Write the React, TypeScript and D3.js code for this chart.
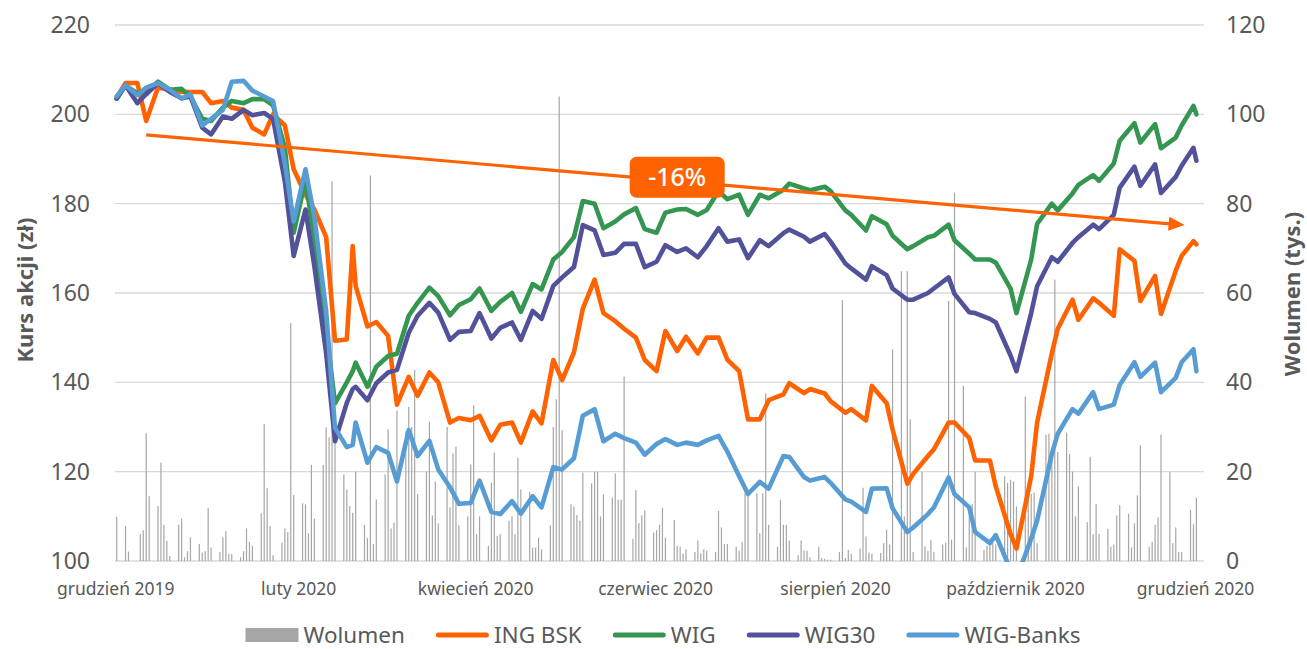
import { useEffect, useRef } from 'react';
import * as d3 from 'd3';

// Price series (left axis, zł / rebased index)
const dates = [
  '2019-12-02', '2019-12-05', '2019-12-09', '2019-12-12', '2019-12-16', '2019-12-20', '2019-12-24', '2019-12-27',
  '2019-12-31', '2020-01-03', '2020-01-07', '2020-01-10', '2020-01-14', '2020-01-17', '2020-01-21', '2020-01-24',
  '2020-01-28', '2020-01-31', '2020-02-04', '2020-02-07', '2020-02-11', '2020-02-14', '2020-02-18', '2020-02-20',
  '2020-02-21', '2020-02-25', '2020-02-28', '2020-03-03', '2020-03-06', '2020-03-10', '2020-03-13', '2020-03-17',
  '2020-03-20', '2020-03-24', '2020-03-27', '2020-03-31', '2020-04-03', '2020-04-07', '2020-04-10', '2020-04-14',
  '2020-04-17', '2020-04-21', '2020-04-24', '2020-04-28', '2020-05-01', '2020-05-05', '2020-05-08', '2020-05-12',
  '2020-05-15', '2020-05-19', '2020-05-22', '2020-05-26', '2020-05-29', '2020-06-02', '2020-06-05', '2020-06-09',
  '2020-06-12', '2020-06-16', '2020-06-19', '2020-06-23', '2020-06-26', '2020-06-30', '2020-07-03', '2020-07-07',
  '2020-07-10', '2020-07-15', '2020-07-17', '2020-07-22', '2020-07-24', '2020-07-29', '2020-07-31', '2020-08-05',
  '2020-08-07', '2020-08-12', '2020-08-14', '2020-08-19', '2020-08-21', '2020-08-26', '2020-08-28', '2020-09-02',
  '2020-09-04', '2020-09-09', '2020-09-11', '2020-09-16', '2020-09-18', '2020-09-23', '2020-09-25', '2020-09-30',
  '2020-10-02', '2020-10-07', '2020-10-09', '2020-10-14', '2020-10-16', '2020-10-21', '2020-10-23', '2020-10-28',
  '2020-10-30', '2020-11-04', '2020-11-06', '2020-11-11', '2020-11-13', '2020-11-18', '2020-11-20', '2020-11-25',
  '2020-11-27', '2020-12-01', '2020-12-02',
];

const ingBsk = [
  203.8, 207, 207, 198.5, 206, 205.5, 205, 205, 205, 202.5, 203, 201.5, 201, 197, 195.5, 200,
  197.5, 187.7, 182, 178.7, 172.5, 149.3, 149.6, 170.5, 161.6, 152.5, 153.5, 150.4, 135, 141.2, 137, 142.2,
  140, 131, 132, 131.5, 132.5, 127, 130.5, 131, 126.5, 133.5, 130.8, 145, 140.5, 146.7, 156.5, 163,
  155.5, 153.7, 152, 150, 145, 142.5, 151.5, 147, 150.2, 146.5, 150, 150, 145.1, 142.5, 131.7, 131.7,
  136, 137.3, 139.8, 137.6, 138.5, 137.5, 135.8, 133.2, 134, 131.5, 139.2, 135.3, 129.5, 117.3, 119.5, 123.5,
  125, 131, 131, 127.5, 122.5, 122.5, 116.7, 106, 102.8, 119, 131, 146.5, 152, 158.5, 154, 158.8,
  157.8, 154.9, 169.8, 167.2, 158.2, 163.8, 155.3, 165, 168.3, 171.6, 170.9,
];

const wig = [
  203.5, 206.5, 204.7, 205, 207.3, 205.5, 205.7, 204, 199, 198.5, 201.5, 203, 202.5, 203.4, 203.4, 202,
  192.5, 173.5, 185.4, 172, 152, 135.3, 140, 142.5, 144.4, 139, 143.5, 145.9, 146.4, 154.9, 157.8, 161.2,
  159.3, 155, 157.3, 158.6, 161, 156, 158, 160, 155.8, 162, 160.8, 167.5, 169.2, 172.5, 180.6, 180,
  174.5, 176, 177.6, 179, 174.3, 173.5, 178, 178.7, 178.8, 177.5, 178.6, 182.8, 181, 182, 177.5, 182,
  181.2, 183.1, 184.5, 183.4, 183, 183.8, 182.8, 178.5, 177.5, 174, 177.2, 175.4, 172.8, 169.8, 170.5, 172.5,
  172.8, 175.3, 171.8, 168.8, 167.5, 167.5, 166.8, 161, 155.5, 167.5, 175.5, 180, 178.5, 182.3, 184.2, 186.4,
  185.1, 189, 194.1, 198, 193.7, 197.8, 192.4, 194.8, 197.5, 201.9, 200,
];

const wig30 = [
  203.5, 206.5, 202.5, 204.5, 207, 205, 203.6, 204, 197, 195.5, 199.5, 199, 201, 199.8, 200.3, 199,
  185, 168.3, 178.7, 166, 146.5, 126.8, 135.4, 138.5, 139, 136, 139.8, 142.2, 142.8, 151.1, 154.9, 157.8,
  155.6, 149.5, 151.3, 151.5, 155.5, 149.8, 152.2, 153.4, 149.5, 156, 154.2, 161.6, 163.5, 165.8, 175.2, 174,
  168.5, 169, 171, 171, 165.8, 167, 170.7, 169.2, 170, 168, 170.5, 174.5, 171.5, 172, 167.8, 171.8,
  170.5, 173.4, 174.2, 172.6, 171.5, 173.2, 171.5, 166.6, 165.5, 163, 166, 164, 161, 158.5, 158.5, 160,
  161, 163.5, 159.8, 155.7, 155.5, 154.2, 153.4, 146, 142.5, 155.5, 161.5, 168, 167, 171.2, 172.5, 175.3,
  174.3, 177.5, 183.6, 188.3, 184, 188.8, 182.4, 186, 188.5, 192.5, 189.6,
];

const wigBanks = [
  204, 206.5, 204.3, 206, 207, 205.5, 203.5, 204.5, 197.5, 199, 201, 207.3, 207.5, 205.3, 204, 203,
  189, 176, 187.7, 177, 156, 129.8, 125.5, 126, 131, 122, 125.5, 124.2, 117.8, 129.3, 123.5, 126.9,
  120.5, 116.5, 112.8, 113, 118, 111, 110.5, 113.4, 110.6, 114.5, 112, 121, 120.5, 123, 132.5, 134,
  126.8, 128.5, 127.5, 126.5, 123.8, 126.2, 127.3, 126, 126.5, 126, 127, 128, 124.5, 119, 115, 117.7,
  116.2, 123.5, 123.3, 118.8, 118, 118.8, 117.5, 113.8, 113.3, 111, 116.2, 116.3, 111.8, 106.5, 107.5, 110.5,
  112, 118.7, 115, 112, 106.5, 104, 105.8, 98, 96, 105, 109, 124, 128.5, 134, 133, 137.8,
  134, 135, 139.4, 144.5, 141.2, 144.4, 137.8, 141, 144.5, 147.4, 142.5,
];

// Daily volume (thousand shares, right axis), one row per week Mon..Fri
const volumeFirstMonday = '2019-12-02';
const volume = [
  [9.9, 0, 0, 7.8, 2.1], [0, 6, 6.9, 28.6, 14.5], [12.3, 22, 8.1, 4.5, 1.1], [8.1, 9.5, 0.8, 2.2, 5.3],
  [3.8, 1.9, 2.2, 11.9, 3], [2, 5.3, 6.7, 1.6, 1.6], [0.8, 2.2, 7.3, 4.3, 3.4], [10.7, 30.7, 16.3, 7.8, 1.3],
  [4.1, 7.3, 6.5, 53.3, 14.8], [12.9, 12.7, 6.2, 21.5, 9.5], [21.5, 29.9, 27.7, 85, 27], [19.4, 16, 12.3, 10.8, 20],
  [8.1, 5.1, 86.3, 3.8, 13.8], [19.4, 29.5, 7.3, 8.6, 33.7], [29, 34.5, 30, 42.8, 15], [20, 31.2, 10.2, 17.8, 8.4],
  [30, 12, 24.1, 25.6, 8], [10, 21.6, 34.9, 6, 10], [3.4, 17.5, 24.3, 5.6, 6], [9, 10, 6, 23.1, 16],
  [15.5, 3, 3, 5.2, 2.6], [8, 30, 36.2, 104, 29.3], [12.7, 12.2, 10.3, 9, 19.8], [17.4, 20, 20, 10, 14.9],
  [14.2, 19.6, 13.7, 13.7, 41.3], [5, 15.9, 8.5, 10.2, 11.3], [6.4, 6.9, 8.1, 11.9, 5.2], [9.2, 3.4, 3.2, 1.7, 2.6],
  [2, 4.6, 1.7, 2.6, 2.3], [2, 11.2, 7.5, 3.8, 3.8], [3.2, 2.3, 4.2, 15.2, 15.2], [15.2, 6.2, 15.2, 37.5, 8.1],
  [3.2, 13.7, 8.1, 8.1, 4.6], [1.3, 4.6, 2.3, 2.3, 0.8], [3.2, 0.7, 0.5, 0.3, 0.3], [2, 58.4, 0.7, 2.5, 1.6],
  [2.8, 16.4, 5.5, 1.9, 1.6], [1.8, 4, 7, 3.7, 47.4], [64.9, 10, 64.9, 31.7, 2], [20, 3.3, 2.2, 4.7, 2],
  [3.7, 4.1, 58.2, 4.8, 82.5], [39.2, 3, 12.4, 12.8, 20], [2.5, 3.4, 5, 4.1, 3.7], [19, 17.5, 18.2, 17.8, 12.2],
  [36.8, 16, 15, 15.3, 4], [28.3, 28.5, 24.4, 63, 24.4], [28.7, 24, 20, 10, 16.7], [8.7, 23.3, 6, 12.8, 6.1],
  [7.2, 3.2, 3.7, 10.2, 12.5], [10.6, 3, 8.4, 14.7, 25.9], [3.2, 4.3, 8.1, 9.8, 28.3], [19.9, 4, 7.5, 2, 2],
  [11.5, 8.2, 14.2],
];

const priceTicks = [100, 120, 140, 160, 180, 200, 220];
const volumeTicks = [0, 20, 40, 60, 80, 100, 120];
const monthTicks = ['2019-12-01', '2020-02-01', '2020-04-01', '2020-06-01', '2020-08-01', '2020-10-01', '2020-12-01'];
const monthLabels = ['grudzień 2019', 'luty 2020', 'kwiecień 2020', 'czerwiec 2020', 'sierpień 2020', 'październik 2020', 'grudzień 2020'];

// ING BSK trend arrow and its label
const trendStart = { date: '2019-12-12', value: 195.4 };
const trendEnd = { date: '2020-11-28', value: 175.2 };
const trendLabel = { date: '2020-06-09', value: 185.9, text: '-16%' };

const FONT = "'Noto Sans', 'Open Sans', sans-serif";
const TEXT = '#595959';

export default function App() {
  const svgRef = useRef<SVGSVGElement | null>(null);

  useEffect(() => {
    document.body.style.margin = '0';
    const parse = d3.timeParse('%Y-%m-%d');
    const svg = d3.select(svgRef.current);
    svg.selectAll('*').remove();

    // plot area
    const left = 115;
    const right = 1204;
    const top = 25;
    const bottom = 561;

    const x = d3
      .scaleTime()
      .domain([parse('2019-12-01')!, parse('2020-12-04')!])
      .range([113.75, 1202.3]);
    const yPrice = d3.scaleLinear().domain([100, 220]).range([bottom, top]);
    const yVol = d3.scaleLinear().domain([0, 120]).range([bottom, top]);

    // gridlines
    svg
      .append('g')
      .selectAll('line')
      .data(priceTicks)
      .join('line')
      .attr('x1', left)
      .attr('x2', right)
      .attr('y1', (d) => yPrice(d))
      .attr('y2', (d) => yPrice(d))
      .attr('stroke', '#d9d9d9')
      .attr('stroke-width', 1.3);

    // volume bars
    const start = parse(volumeFirstMonday)!;
    const volPoints = volume
      .flatMap((week, w) => week.map((v, i) => ({ date: d3.timeDay.offset(start, w * 7 + i), v })))
      .filter((d) => d.v > 0);

    svg
      .append('g')
      .selectAll('rect')
      .data(volPoints)
      .join('rect')
      .attr('x', (d) => x(d.date) - 0.6)
      .attr('width', 1.2)
      .attr('y', (d) => yVol(d.v))
      .attr('height', (d) => yVol(0) - yVol(d.v))
      .attr('fill', '#a6a6a6');

    // lines, clipped at the bottom axis
    svg
      .append('clipPath')
      .attr('id', 'plot-clip')
      .append('rect')
      .attr('x', 100)
      .attr('y', 0)
      .attr('width', 1120)
      .attr('height', bottom + 1);

    const series = [
      { name: 'ING BSK', values: ingBsk, color: '#FF6200' },
      { name: 'WIG', values: wig, color: '#349650' },
      { name: 'WIG30', values: wig30, color: '#52529B' },
      { name: 'WIG-Banks', values: wigBanks, color: '#579DD4' },
    ];
    const parsedDates = dates.map((d) => parse(d)!);
    const line = d3
      .line<number>()
      .x((_, i) => x(parsedDates[i]))
      .y((v) => yPrice(v));

    const lineG = svg.append('g').attr('clip-path', 'url(#plot-clip)');
    series.forEach((s) => {
      lineG
        .append('path')
        .datum(s.values)
        .attr('fill', 'none')
        .attr('stroke', s.color)
        .attr('stroke-width', 4.6)
        .attr('stroke-linejoin', 'round')
        .attr('stroke-linecap', 'round')
        .attr('d', line);
    });

    // trend arrow
    const x0 = x(parse(trendStart.date)!);
    const y0 = yPrice(trendStart.value);
    const x1 = x(parse(trendEnd.date)!);
    const y1 = yPrice(trendEnd.value);
    const len = Math.hypot(x1 - x0, y1 - y0);
    const ux = (x1 - x0) / len;
    const uy = (y1 - y0) / len;
    const headLen = 16;
    const headHalf = 7;
    const bx = x1 - ux * headLen;
    const by = y1 - uy * headLen;
    svg
      .append('line')
      .attr('x1', x0)
      .attr('y1', y0)
      .attr('x2', bx + ux)
      .attr('y2', by + uy)
      .attr('stroke', '#FF6200')
      .attr('stroke-width', 3.2);
    svg
      .append('polygon')
      .attr(
        'points',
        [
          [x1, y1],
          [bx - uy * headHalf, by + ux * headHalf],
          [bx + uy * headHalf, by - ux * headHalf],
        ]
          .map((p) => p.join(','))
          .join(' ')
      )
      .attr('fill', '#FF6200');

    // label box
    const lx = x(parse(trendLabel.date)!);
    const ly = yPrice(trendLabel.value);
    svg
      .append('rect')
      .attr('x', lx - 47.5)
      .attr('y', ly - 20.5)
      .attr('width', 95)
      .attr('height', 41)
      .attr('rx', 7)
      .attr('fill', '#FF6200');
    svg
      .append('text')
      .attr('x', lx)
      .attr('y', ly + 9)
      .attr('text-anchor', 'middle')
      .attr('font-family', FONT)
      .attr('font-size', 25)
      .attr('font-weight', 500)
      .attr('fill', '#fff')
      .text(trendLabel.text);

    // axis labels
    const labels = svg.append('g').attr('font-family', FONT).attr('fill', TEXT);
    labels
      .selectAll('.ly')
      .data(priceTicks)
      .join('text')
      .attr('class', 'ly')
      .attr('x', 90)
      .attr('y', (d) => yPrice(d) + 8)
      .attr('text-anchor', 'end')
      .attr('font-size', 23)
      .text((d) => d);
    labels
      .selectAll('.ry')
      .data(volumeTicks)
      .join('text')
      .attr('class', 'ry')
      .attr('x', 1226)
      .attr('y', (d) => yVol(d) + 8)
      .attr('font-size', 23)
      .text((d) => d);
    labels
      .selectAll('.xl')
      .data(monthTicks)
      .join('text')
      .attr('class', 'xl')
      .attr('x', (d) => x(parse(d)!) + 2)
      .attr('y', 595)
      .attr('text-anchor', 'middle')
      .attr('font-size', 17.5)
      .text((_, i) => monthLabels[i]);

    labels
      .append('text')
      .attr('transform', 'translate(33,290) rotate(-90)')
      .attr('text-anchor', 'middle')
      .attr('font-size', 22)
      .attr('font-weight', 700)
      .text('Kurs akcji (zł)');
    labels
      .append('text')
      .attr('transform', 'translate(1300,294) rotate(-90)')
      .attr('text-anchor', 'middle')
      .attr('font-size', 22)
      .attr('font-weight', 700)
      .text('Wolumen (tys.)');

    // legend
    const legendItems = [
      { name: 'Wolumen', color: '#a6a6a6', bar: true },
      ...series.map((s) => ({ name: s.name, color: s.color, bar: false })),
    ];
    const legend = svg.append('g').attr('font-family', FONT);
    const symW = 53;
    const gap = 5;
    const itemGap = 31;
    let cursor = 0;
    const groups = legendItems.map((item) => {
      const g = legend.append('g');
      if (item.bar) {
        g.append('rect').attr('x', 0).attr('y', -7).attr('width', symW).attr('height', 14).attr('fill', item.color);
      } else {
        g.append('line')
          .attr('x1', 2.5)
          .attr('x2', symW - 2.5)
          .attr('y1', 0)
          .attr('y2', 0)
          .attr('stroke', item.color)
          .attr('stroke-width', 5)
          .attr('stroke-linecap', 'round');
      }
      const t = g
        .append('text')
        .attr('x', symW + gap)
        .attr('y', 7.5)
        .attr('font-size', 22.5)
        .attr('fill', TEXT)
        .text(item.name);
      const w = symW + gap + (t.node() as SVGTextElement).getComputedTextLength();
      const pos = cursor;
      cursor += w + itemGap;
      return { g, pos };
    });
    const total = cursor - itemGap;
    const legendLeft = 663 - total / 2;
    groups.forEach(({ g, pos }) => g.attr('transform', `translate(${legendLeft + pos},635)`));
  }, []);

  return <svg ref={svgRef} width={1307} height={649} style={{ display: 'block', background: '#fff' }} />;
}
